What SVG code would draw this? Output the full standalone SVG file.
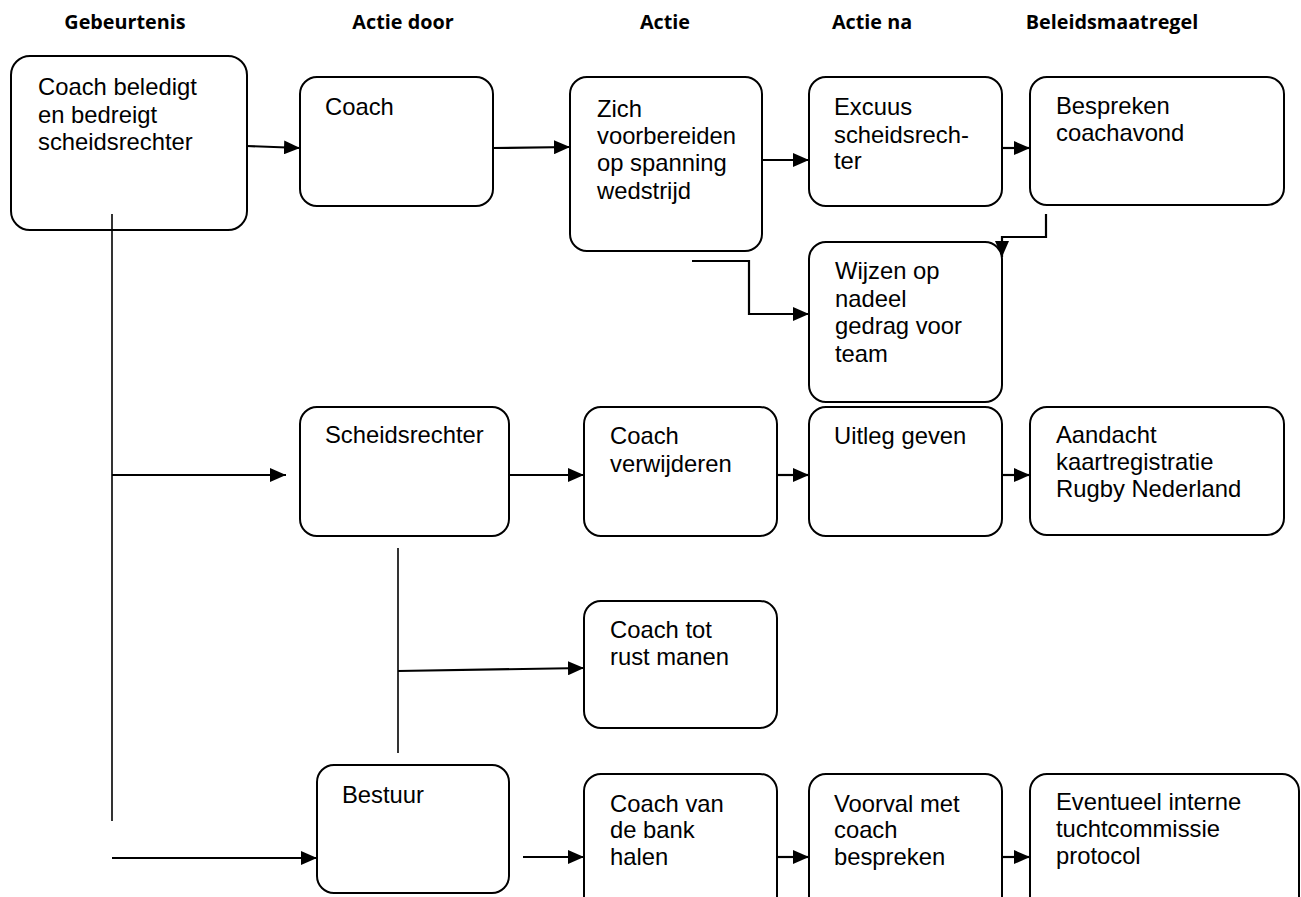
<svg xmlns="http://www.w3.org/2000/svg" width="1301" height="897" viewBox="0 0 1301 897">
<style>
.box{fill:#fff;stroke:#000;stroke-width:2}
.t{font-family:"Liberation Sans",Arial,sans-serif;font-size:23.8px;fill:#000}
.h{font-family:"Open Sans","Liberation Sans",sans-serif;font-weight:700;font-size:19.8px;fill:#000;text-anchor:middle}
.c{fill:none;stroke:#000;stroke-width:2.2}
.c.a{marker-end:url(#ah)}
.thin{fill:none;stroke:#000;stroke-width:1.6}
</style>
<defs>
<marker id="ah" markerUnits="userSpaceOnUse" markerWidth="16" markerHeight="14" refX="16" refY="7" orient="auto">
<path d="M0,0 L16,7 L0,14 z" fill="#000"/>
</marker>
</defs>
<rect width="1301" height="897" fill="#fff"/>
<g id="headers">
<text class="h" x="125" y="29">Gebeurtenis</text>
<text class="h" x="403" y="29">Actie door</text>
<text class="h" x="665" y="29">Actie</text>
<text class="h" x="872" y="29">Actie na</text>
<text class="h" x="1112" y="29">Beleidsmaatregel</text>
</g>
<g id="n1"><rect class="box" x="11" y="56" width="236" height="174" rx="19"/>
<text class="t" x="38" y="95">Coach beledigt</text><text class="t" x="38" y="123">en bedreigt</text><text class="t" x="38" y="150">scheidsrechter</text></g>
<g id="n2"><rect class="box" x="300" y="77" width="193" height="129" rx="17"/>
<text class="t" x="325" y="115">Coach</text></g>
<g id="n3"><rect class="box" x="570" y="77" width="192" height="174" rx="17"/>
<text class="t" x="597" y="117">Zich</text><text class="t" x="597" y="144">voorbereiden</text><text class="t" x="597" y="171">op spanning</text><text class="t" x="597" y="199">wedstrijd</text></g>
<g id="n4"><rect class="box" x="809" y="77" width="193" height="129" rx="17"/>
<text class="t" x="834" y="115">Excuus</text><text class="t" x="834" y="143">scheidsrech-</text><text class="t" x="834" y="169">ter</text></g>
<g id="n5"><rect class="box" x="1030" y="77" width="254" height="128" rx="17"/>
<text class="t" x="1056" y="114">Bespreken</text><text class="t" x="1056" y="141">coachavond</text></g>
<g id="n6"><rect class="box" x="809" y="242" width="193" height="160" rx="17"/>
<text class="t" x="835" y="279">Wijzen op</text><text class="t" x="835" y="307">nadeel</text><text class="t" x="835" y="334">gedrag voor</text><text class="t" x="835" y="362">team</text></g>
<g id="n7"><rect class="box" x="300" y="407" width="209" height="129" rx="17"/>
<text class="t" x="325" y="443">Scheidsrechter</text></g>
<g id="n8"><rect class="box" x="584" y="407" width="193" height="129" rx="17"/>
<text class="t" x="610" y="444">Coach</text><text class="t" x="610" y="472">verwijderen</text></g>
<g id="n9"><rect class="box" x="809" y="407" width="193" height="129" rx="17"/>
<text class="t" x="834" y="444">Uitleg geven</text></g>
<g id="n10"><rect class="box" x="1030" y="407" width="254" height="128" rx="17"/>
<text class="t" x="1056" y="443">Aandacht</text><text class="t" x="1056" y="470">kaartregistratie</text><text class="t" x="1056" y="497">Rugby Nederland</text></g>
<g id="n11"><rect class="box" x="584" y="601" width="193" height="127" rx="17"/>
<text class="t" x="610" y="638">Coach tot</text><text class="t" x="610" y="665">rust manen</text></g>
<g id="n12"><rect class="box" x="317" y="765" width="192" height="128" rx="17"/>
<text class="t" x="342" y="803">Bestuur</text></g>
<g id="n13"><rect class="box" x="584" y="774" width="193" height="140" rx="17"/>
<text class="t" x="610" y="812">Coach van</text><text class="t" x="610" y="838">de bank</text><text class="t" x="610" y="865">halen</text></g>
<g id="n14"><rect class="box" x="809" y="774" width="193" height="140" rx="17"/>
<text class="t" x="834" y="812">Voorval met</text><text class="t" x="834" y="838">coach</text><text class="t" x="834" y="865">bespreken</text></g>
<g id="n15"><rect class="box" x="1030" y="774" width="269" height="140" rx="17"/>
<text class="t" x="1056" y="810">Eventueel interne</text><text class="t" x="1056" y="837">tuchtcommissie</text><text class="t" x="1056" y="864">protocol</text></g>
<g id="connectors">
<line class="c a" x1="247" y1="146" x2="300" y2="148"/>
<line class="c a" x1="493" y1="148" x2="570" y2="147"/>
<line class="c a" x1="762" y1="160" x2="809" y2="160"/>
<line class="c a" x1="1002" y1="148" x2="1030" y2="148"/>
<polyline class="c a" points="1046,214 1046,237 1002,237 1002,257"/>
<polyline class="c a" points="692,261 749,261 749,314 809,314"/>
<line class="thin" x1="112" y1="214" x2="112" y2="821"/>
<line class="c a" x1="112" y1="475" x2="286" y2="475"/>
<line class="c a" x1="509" y1="475" x2="584" y2="475"/>
<line class="c a" x1="777" y1="475" x2="809" y2="475"/>
<line class="c a" x1="1002" y1="475" x2="1030" y2="475"/>
<line class="thin" x1="398" y1="548" x2="398" y2="753"/>
<line class="c a" x1="398" y1="671" x2="584" y2="668"/>
<line class="c a" x1="112" y1="858" x2="317" y2="858"/>
<line class="c a" x1="523" y1="857" x2="584" y2="857"/>
<line class="c a" x1="777" y1="857" x2="809" y2="857"/>
<line class="c a" x1="1002" y1="857" x2="1030" y2="857"/>
</g>
</svg>
